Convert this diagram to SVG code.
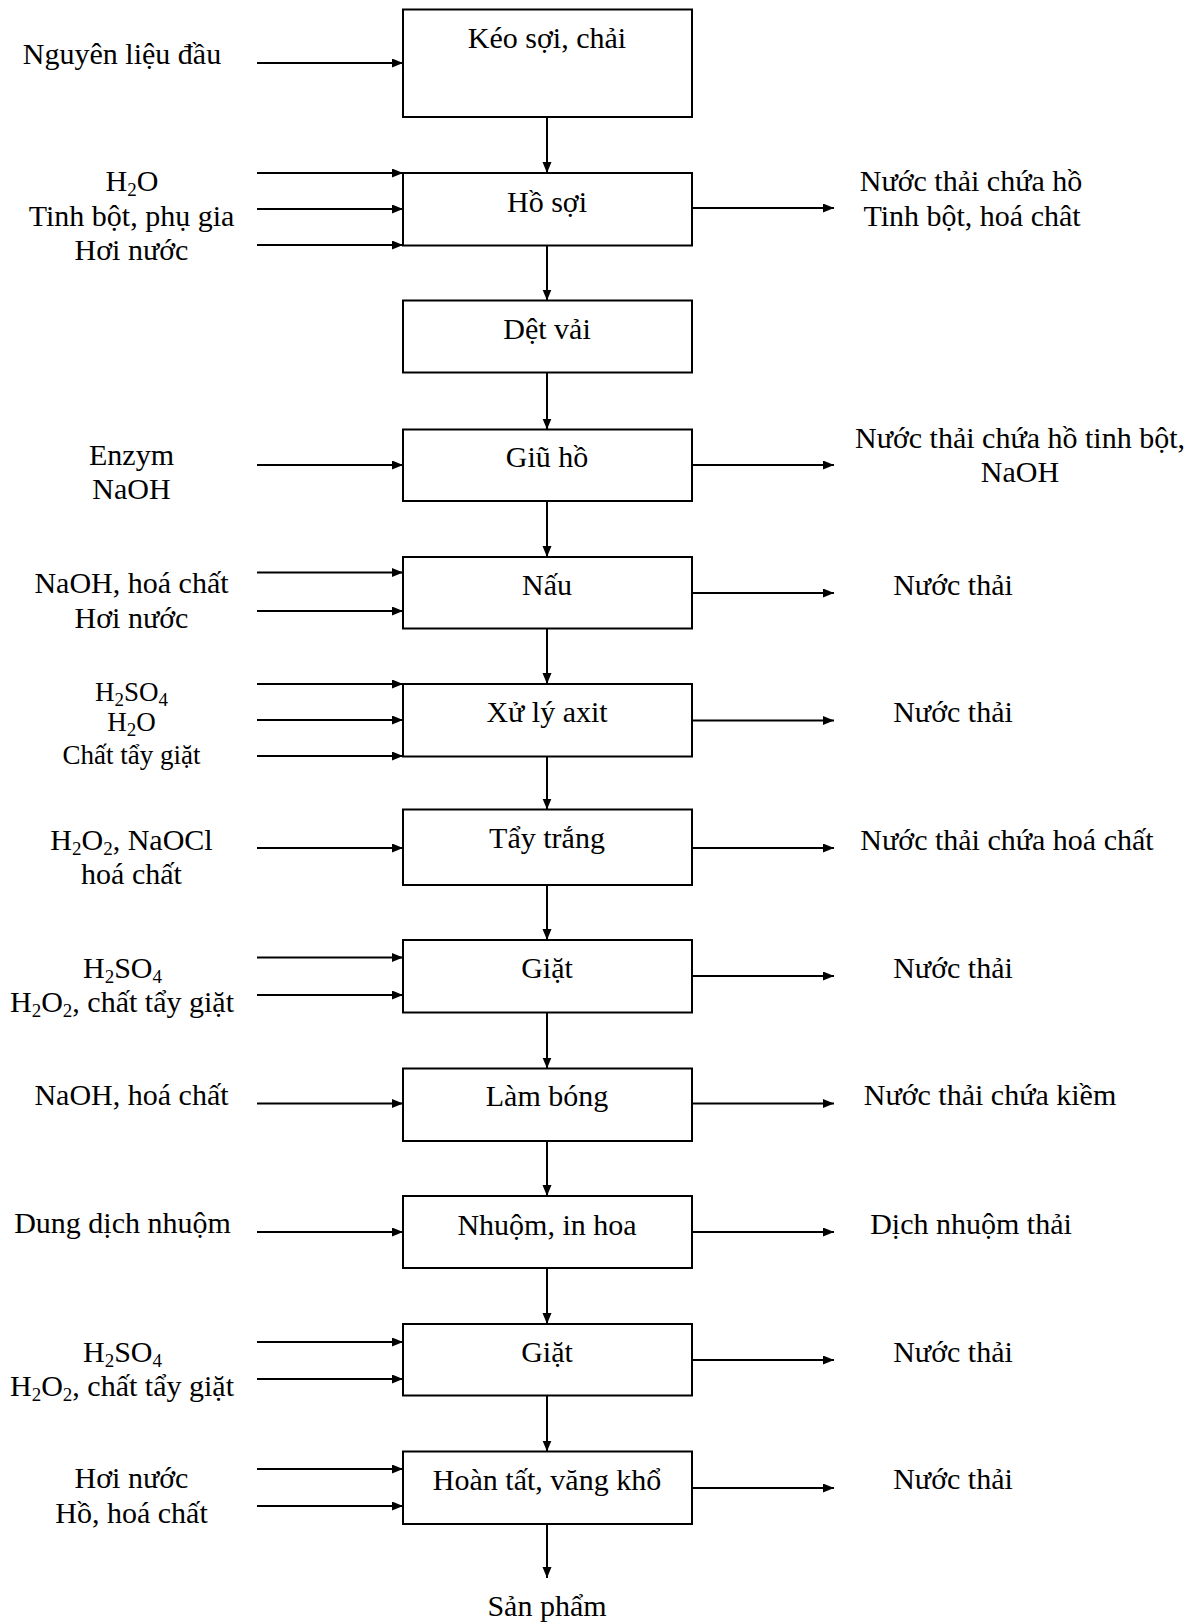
<svg xmlns="http://www.w3.org/2000/svg" width="1201" height="1623" viewBox="0 0 1201 1623">
<defs>
<marker id="ah" markerUnits="userSpaceOnUse" markerWidth="12" markerHeight="10" refX="11" refY="4.5" orient="auto">
<path d="M0,0 L11,4.5 L0,9 z" fill="#000"/>
</marker>
<style>
.box{fill:#fff;stroke:#000;stroke-width:2}
.c{stroke:#000;stroke-width:2;fill:none;marker-end:url(#ah)}
text{font-family:"Liberation Serif","DejaVu Serif",serif;font-size:30px;fill:#000;text-anchor:middle}
.s{font-size:27px}
.sub{font-size:19px}
</style>
</defs>
<rect width="1201" height="1623" fill="#fff"/>
<g id="connectors">
<line class="c" x1="257" y1="63" x2="403" y2="63"/>
<line class="c" x1="547" y1="117" x2="547" y2="173"/>
<line class="c" x1="257" y1="173" x2="403" y2="173"/>
<line class="c" x1="257" y1="209" x2="403" y2="209"/>
<line class="c" x1="257" y1="245" x2="403" y2="245"/>
<line class="c" x1="692" y1="208" x2="834" y2="208"/>
<line class="c" x1="547" y1="245.5" x2="547" y2="300.5"/>
<line class="c" x1="547" y1="372.5" x2="547" y2="429.5"/>
<line class="c" x1="257" y1="465" x2="403" y2="465"/>
<line class="c" x1="692" y1="465" x2="834" y2="465"/>
<line class="c" x1="547" y1="501" x2="547" y2="557"/>
<line class="c" x1="257" y1="572.5" x2="403" y2="572.5"/>
<line class="c" x1="257" y1="611" x2="403" y2="611"/>
<line class="c" x1="692" y1="593" x2="834" y2="593"/>
<line class="c" x1="547" y1="628.5" x2="547" y2="684"/>
<line class="c" x1="257" y1="684" x2="403" y2="684"/>
<line class="c" x1="257" y1="720" x2="403" y2="720"/>
<line class="c" x1="257" y1="756" x2="403" y2="756"/>
<line class="c" x1="692" y1="720.5" x2="834" y2="720.5"/>
<line class="c" x1="547" y1="756.5" x2="547" y2="809.5"/>
<line class="c" x1="257" y1="848" x2="403" y2="848"/>
<line class="c" x1="692" y1="848" x2="834" y2="848"/>
<line class="c" x1="547" y1="885" x2="547" y2="940"/>
<line class="c" x1="257" y1="957.5" x2="403" y2="957.5"/>
<line class="c" x1="257" y1="995" x2="403" y2="995"/>
<line class="c" x1="692" y1="976" x2="834" y2="976"/>
<line class="c" x1="547" y1="1012.5" x2="547" y2="1068.5"/>
<line class="c" x1="257" y1="1103.5" x2="403" y2="1103.5"/>
<line class="c" x1="692" y1="1103.5" x2="834" y2="1103.5"/>
<line class="c" x1="547" y1="1141" x2="547" y2="1196"/>
<line class="c" x1="257" y1="1232" x2="403" y2="1232"/>
<line class="c" x1="692" y1="1232" x2="834" y2="1232"/>
<line class="c" x1="547" y1="1268" x2="547" y2="1324"/>
<line class="c" x1="257" y1="1342" x2="403" y2="1342"/>
<line class="c" x1="257" y1="1379" x2="403" y2="1379"/>
<line class="c" x1="692" y1="1360" x2="834" y2="1360"/>
<line class="c" x1="547" y1="1395.5" x2="547" y2="1451.5"/>
<line class="c" x1="257" y1="1469" x2="403" y2="1469"/>
<line class="c" x1="257" y1="1506" x2="403" y2="1506"/>
<line class="c" x1="692" y1="1488" x2="834" y2="1488"/>
<line class="c" x1="547" y1="1524" x2="547" y2="1578"/>
</g>
<g id="n1"><rect class="box" x="403" y="9.5" width="289" height="107.5"/><text x="547" y="48">Kéo sợi, chải</text></g>
<g id="n2"><rect class="box" x="403" y="173" width="289" height="72.5"/><text x="547" y="212">Hồ sợi</text></g>
<g id="n3"><rect class="box" x="403" y="300.5" width="289" height="72"/><text x="547" y="339">Dệt vải</text></g>
<g id="n4"><rect class="box" x="403" y="429.5" width="289" height="71.5"/><text x="547" y="467">Giũ hồ</text></g>
<g id="n5"><rect class="box" x="403" y="557" width="289" height="71.5"/><text x="547" y="595">Nấu</text></g>
<g id="n6"><rect class="box" x="403" y="684" width="289" height="72.5"/><text x="547" y="722">Xử lý axit</text></g>
<g id="n7"><rect class="box" x="403" y="809.5" width="289" height="75.5"/><text x="547" y="848">Tẩy trắng</text></g>
<g id="n8"><rect class="box" x="403" y="940" width="289" height="72.5"/><text x="547" y="978">Giặt</text></g>
<g id="n9"><rect class="box" x="403" y="1068.5" width="289" height="72.5"/><text x="547" y="1106">Làm bóng</text></g>
<g id="n10"><rect class="box" x="403" y="1196" width="289" height="72"/><text x="547" y="1235">Nhuộm, in hoa</text></g>
<g id="n11"><rect class="box" x="403" y="1324" width="289" height="71.5"/><text x="547" y="1362">Giặt</text></g>
<g id="n12"><rect class="box" x="403" y="1451.5" width="289" height="72.5"/><text x="547" y="1490">Hoàn tất, văng khổ</text></g>
<g id="inputs">
<text x="122" y="64">Nguyên liệu đầu</text>
<text x="132" y="191">H<tspan class="sub" dy="5">2</tspan><tspan dy="-5">O</tspan></text>
<text x="131.5" y="226">Tinh bột, phụ gia</text>
<text x="131.5" y="260">Hơi nước</text>
<text x="131.5" y="465">Enzym</text>
<text x="131.5" y="499">NaOH</text>
<text x="131.5" y="593">NaOH, hoá chất</text>
<text x="131.5" y="628">Hơi nước</text>
<text class="s" x="131.5" y="701">H<tspan class="sub" dy="5">2</tspan><tspan dy="-5">SO</tspan><tspan class="sub" dy="5">4</tspan></text>
<text class="s" x="131.5" y="731">H<tspan class="sub" dy="5">2</tspan><tspan dy="-5">O</tspan></text>
<text class="s" x="131.5" y="764">Chất tẩy giặt</text>
<text x="131.5" y="850">H<tspan class="sub" dy="5">2</tspan><tspan dy="-5">O</tspan><tspan class="sub" dy="5">2</tspan><tspan dy="-5">, NaOCl</tspan></text>
<text x="131.5" y="884">hoá chất</text>
<text x="122.5" y="978">H<tspan class="sub" dy="5">2</tspan><tspan dy="-5">SO</tspan><tspan class="sub" dy="5">4</tspan></text>
<text x="122" y="1012">H<tspan class="sub" dy="5">2</tspan><tspan dy="-5">O</tspan><tspan class="sub" dy="5">2</tspan><tspan dy="-5">, chất tẩy giặt</tspan></text>
<text x="131.5" y="1105">NaOH, hoá chất</text>
<text x="122.5" y="1233">Dung dịch nhuộm</text>
<text x="122.5" y="1362">H<tspan class="sub" dy="5">2</tspan><tspan dy="-5">SO</tspan><tspan class="sub" dy="5">4</tspan></text>
<text x="122" y="1396">H<tspan class="sub" dy="5">2</tspan><tspan dy="-5">O</tspan><tspan class="sub" dy="5">2</tspan><tspan dy="-5">, chất tẩy giặt</tspan></text>
<text x="131.5" y="1488">Hơi nước</text>
<text x="131.5" y="1523">Hồ, hoá chất</text>
</g>
<g id="outputs">
<text x="971" y="191">Nước thải chứa hồ</text>
<text x="972" y="226">Tinh bột, hoá chât</text>
<text x="1020" y="448">Nước thải chứa hồ tinh bột,</text>
<text x="1020" y="482">NaOH</text>
<text x="953" y="595">Nước thải</text>
<text x="953" y="722">Nước thải</text>
<text x="1007" y="850">Nước thải chứa hoá chất</text>
<text x="953" y="978">Nước thải</text>
<text x="990" y="1105">Nước thải chứa kiềm</text>
<text x="971" y="1234">Dịch nhuộm thải</text>
<text x="953" y="1362">Nước thải</text>
<text x="953" y="1489">Nước thải</text>
<text x="547" y="1616">Sản phẩm</text>
</g>
</svg>
